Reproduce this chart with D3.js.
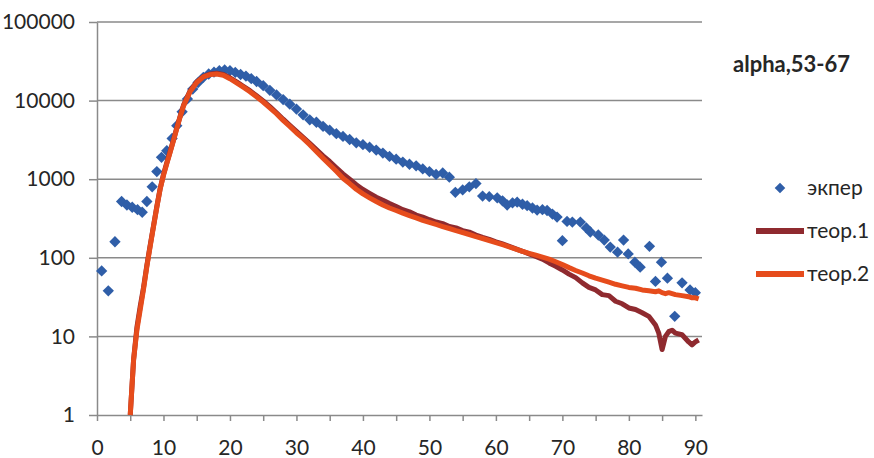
<!DOCTYPE html>
<html>
<head>
<meta charset="utf-8">
<title>alpha,53-67</title>
<script src="https://cdn.jsdelivr.net/npm/d3@7"></script>
<style>
  body { margin: 0; background: #fff; }
  text { font-family: Lato, "Open Sans", sans-serif; fill: #262626; }
</style>
</head>
<body>
<div id="chart"></div>
<script>
// experiment points (blue diamonds)
var expX = [0.7, 1.7, 2.7, 3.7, 4.5, 5.3, 6.1, 6.8, 7.5, 8.3, 9, 9.7, 10.5, 11.3, 12, 12.8, 13.6, 14.4, 15.2, 16,
  16.8, 17.6, 18.4, 19.2, 20, 20.8, 21.6, 22.4, 23.2, 24, 25, 26, 27, 28, 29, 30, 31, 32, 33, 34,
  35, 36, 37, 38, 39, 40, 41, 42, 43, 44, 45, 46, 47, 48, 49, 50, 51, 52, 53, 53.9,
  55, 56, 57, 58, 59, 60.2, 61, 61.7, 62.5, 63.2, 64, 64.7, 65.5, 66.2, 67, 67.7, 68.5, 69.2, 70, 70.7,
  71.5, 72.7, 73.6, 74.2, 75.4, 76.3, 77.2, 78.3, 79.2, 79.9, 80.9, 81.7, 83.1, 84, 84.9, 85.8, 86.9, 88, 89.2, 90];
var expY = [68, 38, 160, 520, 470, 440, 410, 380, 520, 800, 1250, 1900, 2300, 3300, 4800, 7200, 10500, 14000, 17000, 19800,
  21800, 23000, 24000, 24500, 24000, 22800, 21500, 20500, 19000, 17500, 15500, 13500, 11800, 10300, 9000, 7800, 6600, 5700, 5300, 4700,
  4200, 3800, 3500, 3200, 2900, 2750, 2550, 2350, 2150, 1950, 1800, 1650, 1550, 1480, 1350, 1250, 1150, 1200, 1060, 680,
  730, 800, 880, 610, 600, 580, 530, 470, 500, 510, 480, 460, 430, 405, 410, 400, 360, 330, 165, 290,
  285, 285, 240, 213, 195, 168, 137, 118, 168, 112, 88, 76, 140, 50, 88, 55, 18, 48, 39, 36];

// theory curves
var theoryX = [5, 5.5, 6, 6.5, 7, 7.5, 8, 8.5, 9, 9.5, 10, 10.5, 11, 11.5, 12, 12.5, 13,
  14, 15, 16, 17, 18, 19, 20, 21, 22, 23, 24, 25, 26, 27, 28, 29, 30, 31, 32, 33,
  34, 35, 36, 37, 38, 39, 40, 41, 42, 43, 44, 45, 46, 47, 48, 49, 50, 51, 52, 53,
  54, 55, 56, 57, 58, 59, 60, 61, 62, 63, 64, 65, 66, 67, 68, 69, 70, 71, 72, 73,
  74, 75, 76, 77, 78, 79, 80, 81, 82, 83, 84, 84.5, 85, 85.5, 86, 86.5, 87, 88, 89, 89.5, 90, 90.5];
var theory1 = [1, 5, 13, 24, 42, 80, 145, 255, 450, 760, 1150, 1620, 2250, 3150, 4500, 6300, 8700,
  13300, 17300, 20200, 21800, 22300, 21500, 19500, 17300, 15200, 13400, 11500, 9900, 8400, 7000, 5800, 4850, 4050, 3400, 2850, 2380,
  1980, 1680, 1400, 1170, 1000, 850, 740, 660, 590, 540, 490, 450, 410, 385, 350, 330, 305, 285, 272, 250,
  240, 222, 212, 195, 182, 172, 160, 150, 140, 130, 121, 112, 104, 96, 86, 78, 70, 62, 56, 48,
  42, 39, 34, 33, 28, 26, 23, 22, 20, 18, 14, 11, 6.8, 10, 11.5, 12, 11, 10.5, 8.5, 7.8, 8.5, 9];
var theory2 = [1, 5, 12, 22, 40, 78, 140, 250, 440, 750, 1120, 1580, 2200, 3100, 4400, 6200, 8500,
  13000, 17000, 20000, 21400, 21800, 21000, 19000, 16800, 14800, 13000, 11200, 9600, 8100, 6800, 5600, 4700, 3900, 3300, 2750, 2250,
  1850, 1530, 1260, 1030, 880, 745, 650, 580, 520, 470, 430, 400, 370, 345, 322, 300, 282, 266, 250, 236,
  222, 210, 198, 186, 176, 166, 156, 147, 138, 129, 121, 114, 108, 102, 96, 89, 82, 75, 69, 64,
  59, 55, 52, 49, 46, 44, 42, 41, 39, 38, 37, 38, 36, 35, 36, 35, 34, 33, 32, 31, 31, 30];

var yTicks = [1, 10, 100, 1000, 10000, 100000];
var xTicks = d3.range(0, 91, 5);
var seriesNames = ["экпер", "теор.1", "теор.2"];
var colors = ["#2f5ea8", "#8f2a2f", "#e64c1c"];

var width = 874, height = 458;

var x = d3.scaleLinear().domain([0, 91]).range([97, 702]);
var y = d3.scaleLog().domain([1, 100000]).range([415, 22]);

var svg = d3.select("#chart").append("svg")
  .attr("width", width)
  .attr("height", height);

// horizontal gridlines
svg.append("g")
  .selectAll("line")
  .data(yTicks.slice(1))
  .enter()
  .append("line")
  .attr("x1", x(0)).attr("x2", x(91))
  .attr("y1", d => y(d)).attr("y2", d => y(d))
  .attr("stroke", "#8a8a8a")
  .attr("stroke-width", 1.5);

// y axis
var gy = svg.append("g")
  .attr("transform", "translate(" + x(0) + ",0)")
  .call(d3.axisLeft(y).tickValues(yTicks).tickFormat(d3.format("d"))
    .tickSize(8).tickSizeOuter(0).tickPadding(14));

// x axis
var gx = svg.append("g")
  .attr("transform", "translate(0," + y(1) + ")")
  .call(d3.axisBottom(x).tickValues(xTicks).tickFormat(d => d % 10 === 0 ? d : "")
    .tickSize(6).tickSizeOuter(0).tickPadding(19));

[gy, gx].forEach(function (g) {
  g.attr("font-family", null).attr("font-size", null);
  g.select(".domain").attr("stroke", "#8a8a8a").attr("stroke-width", 1.5);
  g.selectAll(".tick line").attr("stroke", "#8a8a8a").attr("stroke-width", 1.5);
  g.selectAll(".tick text").style("font-size", "21px").attr("fill", "#262626");
});

// experiment diamonds
var diamond = d3.symbol().type(d3.symbolSquare).size(64);
svg.append("g")
  .selectAll("path")
  .data(expX.map((d, i) => [d, expY[i]]))
  .enter()
  .append("path")
  .attr("d", diamond)
  .attr("transform", d => "translate(" + x(d[0]) + "," + y(d[1]) + ") rotate(45)")
  .attr("fill", colors[0]);

// theory lines
var line = d3.line()
  .x(d => x(d[0]))
  .y(d => y(d[1]));

[theory1, theory2].forEach(function (vals, k) {
  svg.append("path")
    .datum(theoryX.map((d, i) => [d, vals[i]]))
    .attr("d", line)
    .attr("fill", "none")
    .attr("stroke", colors[k + 1])
    .attr("stroke-width", 5)
    .attr("stroke-linejoin", "round");
});

// title
svg.append("text")
  .attr("x", 733).attr("y", 72)
  .style("font-size", "22px")
  .style("font-weight", "bold")
  .text("alpha,53-67");

// legend
var legend = svg.append("g");
var legY = [188, 231, 274];
legend.append("path")
  .attr("d", d3.symbol().type(d3.symbolSquare).size(56))
  .attr("transform", "translate(780," + legY[0] + ") rotate(45)")
  .attr("fill", colors[0]);
[1, 2].forEach(function (k) {
  legend.append("line")
    .attr("x1", 756).attr("x2", 804)
    .attr("y1", legY[k]).attr("y2", legY[k])
    .attr("stroke", colors[k])
    .attr("stroke-width", 6);
});
legend.selectAll("text")
  .data(seriesNames)
  .enter()
  .append("text")
  .attr("x", 807)
  .attr("y", (d, i) => legY[i])
  .attr("dy", "0.35em")
  .style("font-size", "21px")
  .text(d => d);
</script>
</body>
</html>
